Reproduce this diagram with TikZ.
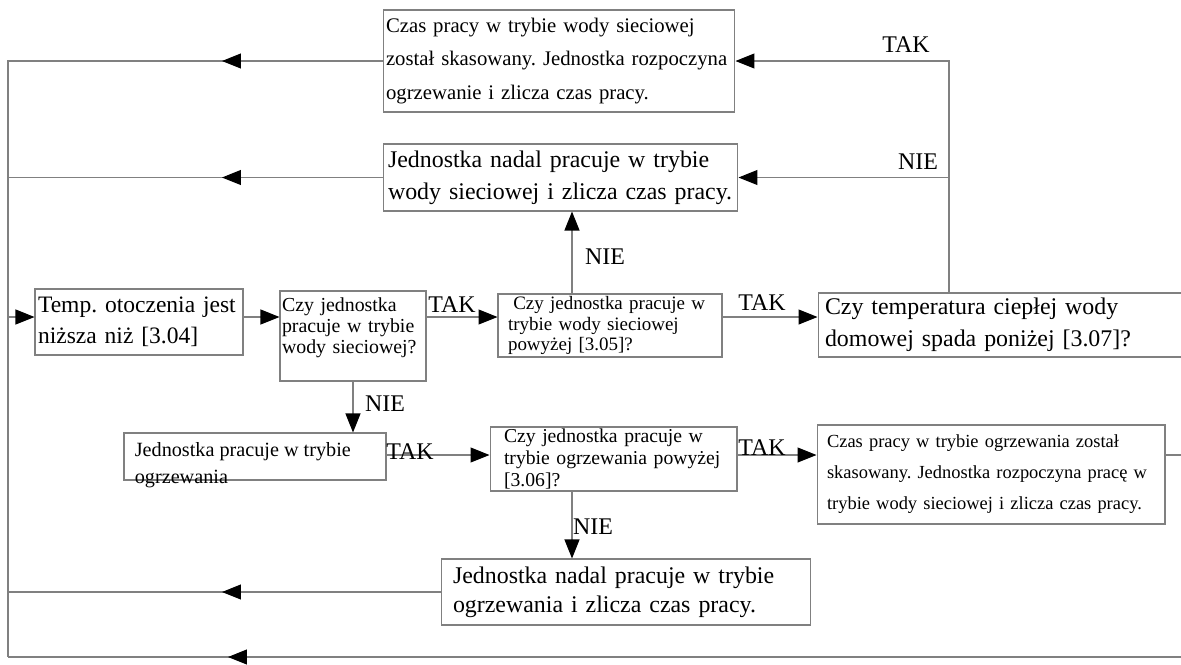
\documentclass[tikz,border=0pt]{standalone}
\usepackage{fontspec}
\setmainfont{Liberation Serif}
\usetikzlibrary{arrows.meta}
\frenchspacing

\begin{document}
\begin{tikzpicture}[
    x=0.02cm, y=-0.02cm,
    box/.style={draw=gray, line width=0.6pt, align=left, inner ysep=0pt},
    wire/.style={draw=gray, line width=0.6pt},
    flow/.style={wire, -{Triangle[length=0.38cm, width=0.3cm, color=black, fill=black]}},
    tag/.style={font=\fontsize{13.6}{16}\selectfont, inner sep=1pt},
]
\useasboundingbox (0,0) rectangle (1181,664);

% Top boxes
\node[box, minimum width=7.04cm, minimum height=2.04cm, inner xsep=0.06cm, text width=6.92cm,
      font=\fontsize{11.8}{19.3}\selectfont] (ta) at (559,61)
  {Czas pracy w trybie wody sieciowej\\został skasowany. Jednostka rozpoczyna\\ogrzewanie i zlicza czas pracy.};
\node[box, minimum width=7.1cm, minimum height=1.34cm, inner xsep=0.1cm, text width=6.9cm,
      font=\fontsize{13.6}{18}\selectfont] (nb) at (560.5,177.5)
  {Jednostka nadal pracuje w trybie\\wody sieciowej i zlicza czas pracy.};

% Middle row
\node[box, minimum width=4.16cm, minimum height=1.32cm, inner xsep=0.06cm, text width=4.04cm,
      font=\fontsize{13.4}{17.6}\selectfont] (t) at (139,322)
  {Temp. otoczenia jest\\niższa niż [3.04]};
\node[box, minimum width=2.92cm, minimum height=1.8cm, inner xsep=0.04cm, text width=2.84cm,
      font=\fontsize{11.3}{12}\selectfont] (q1) at (353,336)
  {Czy jednostka\\pracuje w trybie\\wody sieciowej?\\~};
\node[box, minimum width=4.48cm, minimum height=1.26cm, inner xsep=0.2cm, text width=4.08cm,
      font=\fontsize{10.8}{11.5}\selectfont] (q2) at (610,325.5)
  {\hspace*{3pt}Czy jednostka pracuje w\\trybie wody sieciowej\\powyżej [3.05]?};
\node[box, minimum width=8.04cm, minimum height=1.28cm, inner xsep=0.14cm, text width=7.76cm,
      font=\fontsize{13.6}{18}\selectfont] (q3) at (1019,325)
  {Czy temperatura ciepłej wody\\domowej spada poniżej [3.07]?};

% Lower row
\node[box, minimum width=5.24cm, minimum height=0.94cm] (hb) at (255,456.5) {};
\node[align=left, inner sep=0pt, anchor=north west, font=\fontsize{11.5}{15.3}\selectfont]
  (hbt) at ([xshift=0.22cm, yshift=-0.2cm]hb.north west) {Jednostka pracuje w trybie\\ogrzewania};
\node[box, minimum width=4.94cm, minimum height=1.28cm, inner xsep=0.28cm, text width=4.38cm,
      font=\fontsize{11.2}{12.5}\selectfont] (q4) at (613.5,459)
  {Czy jednostka pracuje w\\trybie ogrzewania powyżej\\[0pt][3.06]?};
\node[box, minimum width=6.96cm, minimum height=1.98cm, inner xsep=0.2cm, text width=6.56cm,
      font=\fontsize{10.5}{17.6}\selectfont] (q5) at (991,474.5)
  {Czas pracy w trybie ogrzewania został\\skasowany. Jednostka rozpoczyna pracę w\\trybie wody sieciowej i zlicza czas pracy.};
\node[box, minimum width=7.4cm, minimum height=1.32cm, inner xsep=0.24cm, text width=6.92cm,
      font=\fontsize{13.6}{16.5}\selectfont] (nn) at (626,592)
  {Jednostka nadal pracuje w trybie\\ogrzewania i zlicza czas pracy.};

% Free ends
\coordinate (in) at (8,317);
\coordinate (ll) at (8,657);
\coordinate (lm) at (222,657);
\coordinate (br) at (1181,657);
\coordinate (r1) at (949,293);
\coordinate (u1) at (572,294);
\coordinate (d1) at (572,491);
\coordinate (e1) at (1181,455);

% Main row
\draw[flow] (in) -- (in -| t.west);
\draw[flow] (in -| t.east) -- (in -| q1.west);
\draw[flow] (in -| q1.east) -- (in -| q2.west);
\draw[flow] (in -| q2.east) -- (in -| q3.west);

% Branches
\draw[flow] (r1) |- (ta.east);
\draw[flow] (r1) |- (nb.east);
\draw[flow] (u1) -- (u1 |- nb.south);
\draw[flow] (q1.south) -- (q1.south |- hb.north);
\draw[flow] (hb.east |- e1) -- (e1 -| q4.west);
\draw[flow] (q4.east |- e1) -- (e1 -| q5.west);
\draw[wire] (e1 -| q5.east) -- (e1);
\draw[flow] (d1) -- (d1 |- nn.north);

% Returns to the left
\draw[wire] (ta.west) -| (ll);
\draw[flow] (ta.west) -- (ta.west -| lm);
\draw[wire] (nb.west) -- (nb.west -| ll);
\draw[flow] (nb.west) -- (nb.west -| lm);
\draw[wire] (nn.west) -- (nn.west -| ll);
\draw[flow] (nn.west) -- (nn.west -| lm);
\draw[wire] (br) -- (ll);
\draw[flow] (br) -- ([xshift=0.12cm]lm);

% Labels
\node[tag] (tak1) at (906,45) {TAK};
\node[tag] (nie1) at (918,162) {NIE};
\node[tag] (nie2) at (605,257) {NIE};
\node[tag] (tak2) at (452,305) {TAK};
\node[tag] (tak3) at (762,303) {TAK};
\node[tag] (nie3) at (385,404) {NIE};
\node[tag] (tak4) at (410,452) {TAK};
\node[tag] (tak5) at (762,448) {TAK};
\node[tag] (nie4) at (593,527) {NIE};

\end{tikzpicture}
\end{document}
